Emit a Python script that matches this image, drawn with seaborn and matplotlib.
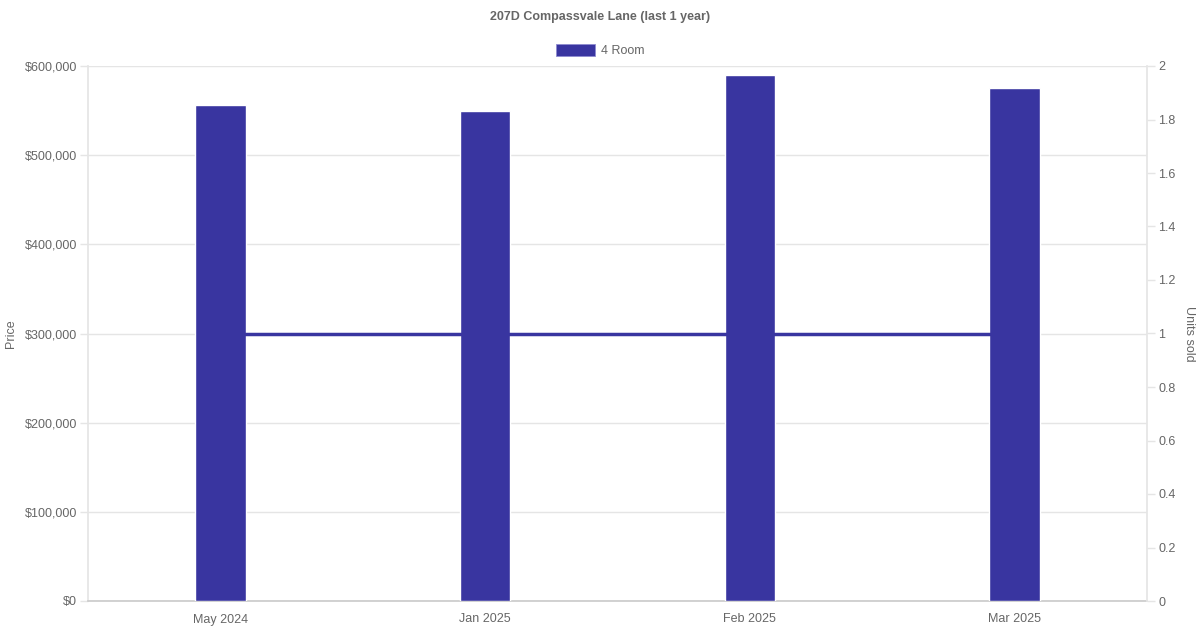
import matplotlib
matplotlib.use("Agg")
import matplotlib.pyplot as plt
import seaborn as sns
import pandas as pd
from matplotlib.ticker import FuncFormatter, MultipleLocator
from matplotlib.patches import Rectangle

months = ["May 2024", "Jan 2025", "Feb 2025", "Mar 2025"]
prices = [556000, 550000, 590000, 575000]
units_sold = [1, 1, 1, 1]
series_name = "4 Room"
title = "207D Compassvale Lane (last 1 year)"

BAR = "#3935a0"
TXT = "#666666"
GRID = "#e5e5e5"

sns.set_theme(style="white")
plt.rcParams["font.family"] = ["Liberation Sans", "DejaVu Sans"]

df = pd.DataFrame({"month": months, "price": prices, "units": units_sold})

fig = plt.figure(figsize=(12, 6.3), dpi=100)
ax1 = fig.add_axes([88/1200, 29/630, (1147-88)/1200, (601-66)/630])
ax2 = ax1.twinx()

sns.barplot(data=df, x="month", y="price", color=BAR, width=0.19,
            saturation=1, ax=ax1, zorder=3)
ax2.plot(range(len(months)), df["units"], color=BAR, lw=2.5, zorder=1)

ax1.set_xlim(-0.5, len(months) - 0.5)
ax1.set_ylim(0, 600000)
ax2.set_ylim(0, 2)
ax1.yaxis.set_major_locator(MultipleLocator(100000))
ax1.yaxis.set_major_formatter(FuncFormatter(lambda v, p: f"${v:,.0f}"))
ax2.yaxis.set_major_locator(MultipleLocator(0.2))
ax2.yaxis.set_major_formatter(FuncFormatter(lambda v, p: f"{v:g}"))

ax1.grid(axis="y", color=GRID, lw=1)
ax1.grid(axis="x", visible=False)
ax1.set_axisbelow(True)
ax2.grid(False)

for ax in (ax1, ax2):
    for s in ax.spines.values():
        s.set_visible(False)
ax1.spines["left"].set_visible(True)
ax1.spines["left"].set_color(GRID)
ax1.spines["bottom"].set_visible(True)
ax1.spines["bottom"].set_color("#cccccc")
ax2.spines["right"].set_visible(True)
ax2.spines["right"].set_color(GRID)

ax1.tick_params(axis="y", colors=GRID, labelcolor=TXT, labelsize=9,
                length=5.8, width=1, pad=2.2, left=True)
ax1.tick_params(axis="x", colors=GRID, labelcolor=TXT, labelsize=9,
                length=0, pad=9)
ax2.tick_params(axis="y", colors=GRID, labelcolor=TXT, labelsize=9,
                length=5.8, width=1, pad=2.2, right=True)

ax1.set_xlabel("")
ax1.set_ylabel("Price", color=TXT, fontsize=9, va="center")
ax1.yaxis.set_label_coords((11 - 88) / 1059, 0.5)
ax2.set_ylabel("Units sold", color=TXT, fontsize=9, rotation=-90, va="center")
ax2.yaxis.set_label_coords((1189 - 88) / 1059, 0.5)

fig.text(0.5, 1 - 17/630, title, ha="center", va="center",
         color=TXT, fontsize=9, fontweight="bold")

fig.patches.append(Rectangle((556/1200, 1 - 56/630), 39/1200, 12/630,
                             transform=fig.transFigure, facecolor=BAR,
                             edgecolor="#8f8bd0", lw=0.6))
fig.text(601/1200, 1 - 50.5/630, series_name, ha="left", va="center",
         color=TXT, fontsize=9)

fig.savefig("out.png", dpi=100, facecolor="white")
